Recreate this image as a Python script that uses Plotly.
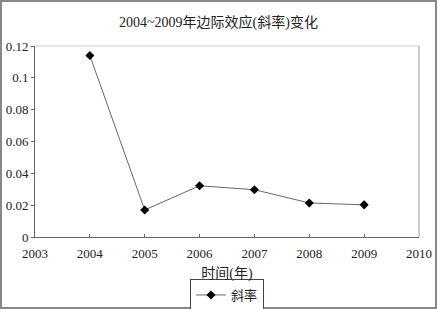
import plotly.graph_objects as go

years = [2004, 2005, 2006, 2007, 2008, 2009]
slope = [0.114, 0.017, 0.0322, 0.0297, 0.0214, 0.0202]
series_name = "斜率"
title = "2004~2009年边际效应(斜率)变化"
x_title = "时间(年)"

W, H = 437, 309
L, R, T, B = 35, 18, 46, 72
pw, ph = W - L - R, H - T - B

font = "Liberation Serif, Times New Roman, Noto Sans CJK SC, serif"

fig = go.Figure()
fig.add_trace(go.Scatter(
    x=years, y=slope, name=series_name, mode="lines+markers",
    line=dict(color="#666666", width=1),
    marker=dict(symbol="diamond", size=7, color="black"),
))

fig.update_layout(
    width=W, height=H,
    margin=dict(l=L, r=R, t=T, b=B, autoexpand=False),
    paper_bgcolor="white", plot_bgcolor="white",
    font=dict(family=font, size=13, color="#222222"),
    title=dict(text=title, x=0.5, xanchor="center", y=1 - 22 / H, yanchor="middle",
               font=dict(family=font, size=14, color="#222222")),
    xaxis=dict(range=[2003, 2010], dtick=1, tick0=2003, showgrid=False,
               showline=True, linecolor="#666666", linewidth=1,
               ticks="inside", ticklen=3, tickcolor="#666666",
               ticklabelstandoff=4,
               automargin=False,
               title=dict(text=x_title, standoff=8, font=dict(family=font, size=14)),
               zeroline=False),
    yaxis=dict(range=[0, 0.12], dtick=0.02, showgrid=False,
               showline=True, linecolor="#666666", linewidth=1,
               ticks="outside", ticklen=3, tickcolor="#666666",
               automargin=False,
               tickformat=".2~f", zeroline=False),
    legend=dict(orientation="h", x=0.5, xanchor="center", y=-(295 - 237) / ph, yanchor="middle",
                bordercolor="#444444", borderwidth=1, bgcolor="white",
                font=dict(family=font, size=13), itemwidth=30,
                entrywidth=0, tracegroupgap=0),
    showlegend=True,
)

# plot area top/right border (light)
fig.add_shape(type="line", xref="paper", yref="paper", x0=0, x1=1, y0=1, y1=1,
              line=dict(color="#cccccc", width=1))
fig.add_shape(type="line", xref="paper", yref="paper", x0=1, x1=1, y0=0, y1=1,
              line=dict(color="#999999", width=1))
# outer image frame
fig.add_shape(type="rect", xref="paper", yref="paper",
              x0=(-L + 1) / pw, x1=1 + (R - 1) / pw,
              y0=(-B + 1) / ph, y1=1 + (T - 1) / ph,
              line=dict(color="#888888", width=2))

fig.write_html("out.html")
